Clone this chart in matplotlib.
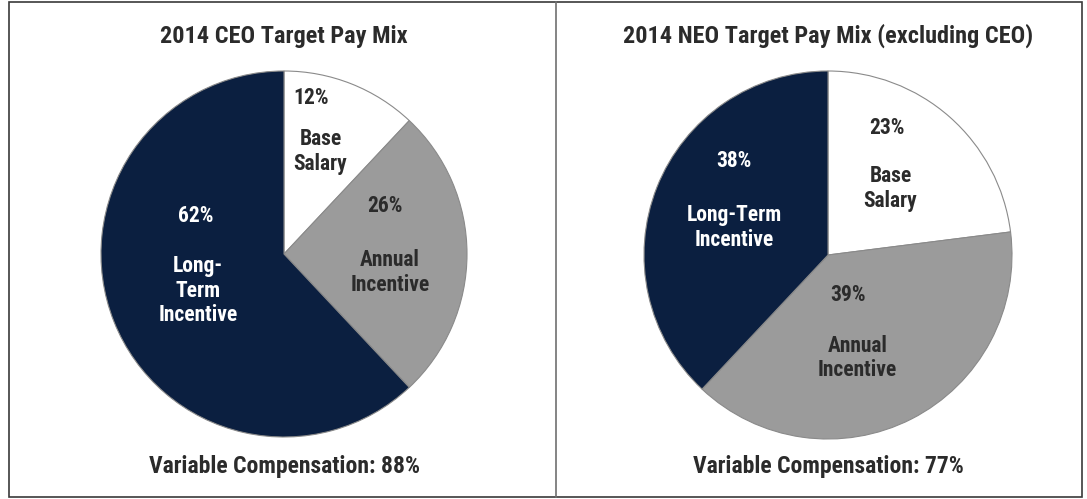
import matplotlib
matplotlib.use("Agg")
import matplotlib.pyplot as plt
from matplotlib.patches import Rectangle
from matplotlib.lines import Line2D

plt.rcParams['font.family'] = ['Roboto Condensed', 'DejaVu Sans']

# data
titles = ["2014 CEO Target Pay Mix", "2014 NEO Target Pay Mix (excluding CEO)"]
components = ["Base Salary", "Annual Incentive", "Long-Term Incentive"]
ceo_mix = [12, 26, 62]
neo_mix = [23, 39, 38]
variable_comp = [88, 77]

colors = ["#ffffff", "#9b9b9b", "#0b1f40"]
text_colors = ["#2b2b2b", "#2b2b2b", "#ffffff"]

# label layout (in pie units) per chart: (pct position, name position, name text)
ceo_labels = [((0.15, 0.85), (0.20, 0.56), "Base\nSalary"),
              ((0.55, 0.26), (0.58, -0.10), "Annual\nIncentive"),
              ((-0.48, 0.21), (-0.47, -0.20), "Long-\nTerm\nIncentive")]
neo_labels = [((0.32, 0.69), (0.34, 0.36), "Base\nSalary"),
              ((0.11, -0.22), (0.16, -0.56), "Annual\nIncentive"),
              ((-0.51, 0.51), (-0.51, 0.15), "Long-Term\nIncentive")]

W, H = 1087, 499
fig = plt.figure(figsize=(W / 100, H / 100), dpi=100)

# frame and divider
fig.add_artist(Rectangle((9 / W, 2 / H), (1082 - 9) / W, (497 - 2) / H,
                         transform=fig.transFigure, fill=False,
                         edgecolor="#3a3a3a", linewidth=1.2))
fig.add_artist(Line2D([556 / W, 556 / W], [2 / H, 497 / H],
                      transform=fig.transFigure, color="#707070", linewidth=1.2))

pies = [(284, 254, 183), (828, 255, 184)]
mixes = [ceo_mix, neo_mix]
label_sets = [ceo_labels, neo_labels]

for i in range(2):
    cx, cy, r = pies[i]
    ax = fig.add_axes([(cx - r) / W, (H - cy - r) / H, 2 * r / W, 2 * r / H])
    ax.pie(mixes[i], colors=colors, startangle=90, counterclock=False,
           radius=1, wedgeprops=dict(edgecolor="#8a8a8a", linewidth=0.8))
    ax.set_xlim(-1.0, 1.0)
    ax.set_ylim(-1.0, 1.0)
    ax.set_aspect("auto")
    ax.axis("off")
    for j, (pp, np_, name) in enumerate(label_sets[i]):
        ax.text(pp[0], pp[1], f"{mixes[i][j]}%", ha="center", va="center",
                fontsize=15.5, fontweight="bold", color=text_colors[j])
        ax.text(np_[0], np_[1], name, ha="center", va="center",
                fontsize=15.5, fontweight="bold", color=text_colors[j],
                linespacing=1.15)

    fig.text(cx / W, 1 - 36 / H, titles[i], ha="center", va="center",
             fontsize=17.5, fontweight="bold", color="#2b2b2b")
    fig.text(cx / W, 1 - 466 / H, f"Variable Compensation: {variable_comp[i]}%",
             ha="center", va="center", fontsize=17, fontweight="bold",
             color="#2b2b2b")

fig.savefig("out.png", dpi=100)
